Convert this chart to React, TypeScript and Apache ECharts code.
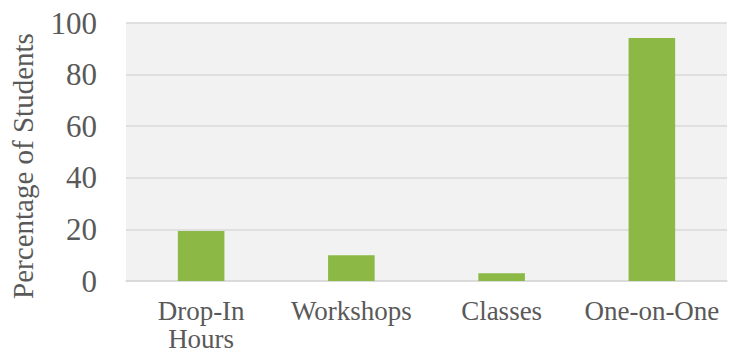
import React, { useEffect, useRef } from "react";
import * as echarts from "echarts";

const categories = ["Drop-In\nHours", "Workshops", "Classes", "One-on-One"];
const values = [19.4, 10, 3, 94.2];
const yTicks = [0, 20, 40, 60, 80, 100];
const yTitle = "Percentage of Students";

export default function App() {
  const ref = useRef<HTMLDivElement>(null);
  useEffect(() => {
    document.body.style.margin = "0";
    const chart = echarts.init(ref.current!, undefined, { renderer: "svg" });
    const font = "Liberation Serif";
    chart.setOption({
      animation: false,
      backgroundColor: "#ffffff",
      grid: {
        left: 126,
        right: 8,
        top: 23,
        bottom: 73,
        show: true,
        backgroundColor: "#f2f2f2",
        borderWidth: 0,
      },
      xAxis: {
        type: "category",
        data: categories,
        axisLine: { show: true, lineStyle: { color: "#d9d9d9", width: 1.5 } },
        axisTick: { show: false },
        axisLabel: {
          interval: 0,
          color: "#595959",
          fontFamily: font,
          fontSize: 27,
          lineHeight: 28,
          margin: 16,
        },
      },
      yAxis: {
        type: "value",
        min: yTicks[0],
        max: yTicks[yTicks.length - 1],
        interval: 20,
        axisLine: { show: false },
        axisTick: { show: false },
        splitLine: { lineStyle: { color: "#d9d9d9", width: 1.5 } },
        axisLabel: {
          color: "#595959",
          fontFamily: font,
          fontSize: 31,
          margin: 29,
        },
      },
      graphic: [
        {
          type: "text",
          x: 23,
          y: 166,
          rotation: Math.PI / 2,
          style: {
            text: yTitle,
            fill: "#595959",
            font: `29px "${font}"`,
            align: "center",
            verticalAlign: "middle",
          },
        },
      ],
      series: [
        {
          type: "bar",
          data: values,
          barWidth: "31%",
          itemStyle: { color: "#8cb845" },
        },
      ],
    });
    return () => chart.dispose();
  }, []);
  return <div ref={ref} style={{ width: 735, height: 354 }} />;
}
